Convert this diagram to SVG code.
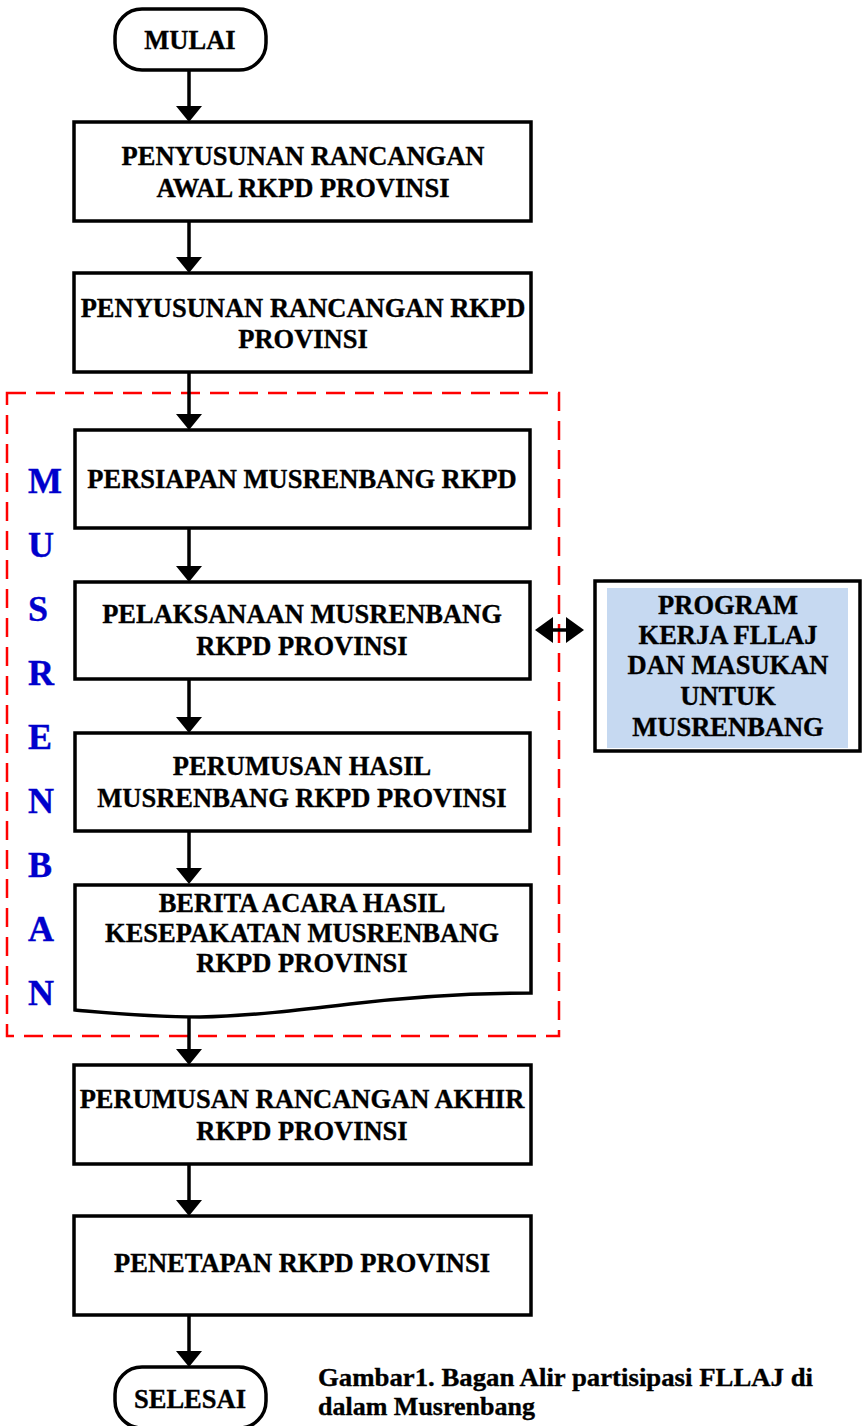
<svg xmlns="http://www.w3.org/2000/svg" width="862" height="1426" viewBox="0 0 862 1426">
<style>
.box{fill:#fff;stroke:#000;stroke-width:3.5}
.t{font-family:"Liberation Serif","Times New Roman",serif;font-weight:bold;font-size:26.5px;fill:#000;stroke:#000;stroke-width:0.35;text-anchor:middle}
.v{font-family:"Liberation Serif","Times New Roman",serif;font-weight:bold;font-size:36px;fill:#0000CC;stroke:#0000CC;stroke-width:0.4}
.cap{font-family:"Liberation Serif","Times New Roman",serif;font-weight:bold;font-size:26px;fill:#000;stroke:#000;stroke-width:0.35}
.ln{stroke:#000;stroke-width:3.5;fill:none}
</style>
<defs>
<marker id="ah" markerUnits="userSpaceOnUse" markerWidth="16" markerHeight="26" viewBox="0 0 16 26" refX="6" refY="13" orient="auto">
<path d="M0,0 L16,13 L0,26 Z" fill="#000"/>
</marker>
<marker id="ah2" markerUnits="userSpaceOnUse" markerWidth="18" markerHeight="26" viewBox="0 0 18 26" refX="8" refY="13" orient="auto-start-reverse">
<path d="M0,0 L18,13 L0,26 Z" fill="#000"/>
</marker>
</defs>
<rect width="862" height="1426" fill="#fff"/>
<g id="musrenbang-frame">
<rect x="7" y="393" width="552" height="643" fill="none" stroke="#FF0000" stroke-width="2.5" stroke-dasharray="19 10"/>
<text class="v" x="28" y="493">M</text>
<text class="v" x="28" y="557">U</text>
<text class="v" x="28" y="621">S</text>
<text class="v" x="28" y="685">R</text>
<text class="v" x="28" y="749">E</text>
<text class="v" x="28" y="813">N</text>
<text class="v" x="28" y="877">B</text>
<text class="v" x="28" y="941">A</text>
<text class="v" x="28" y="1005">N</text>
</g>
<g id="connectors">
<line class="ln" x1="189" y1="70" x2="189" y2="112" marker-end="url(#ah)"/>
<line class="ln" x1="189" y1="221" x2="189" y2="263" marker-end="url(#ah)"/>
<line class="ln" x1="189" y1="372" x2="189" y2="420" marker-end="url(#ah)"/>
<line class="ln" x1="189" y1="528" x2="189" y2="572" marker-end="url(#ah)"/>
<line class="ln" x1="189" y1="679" x2="189" y2="723" marker-end="url(#ah)"/>
<line class="ln" x1="189" y1="831" x2="189" y2="874" marker-end="url(#ah)"/>
<line class="ln" x1="189" y1="1012" x2="189" y2="1055" marker-end="url(#ah)"/>
<line class="ln" x1="189" y1="1164" x2="189" y2="1206" marker-end="url(#ah)"/>
<line class="ln" x1="189" y1="1315" x2="189" y2="1357" marker-end="url(#ah)"/>
<line class="ln" x1="545" y1="630" x2="574" y2="630" stroke-width="3" marker-start="url(#ah2)" marker-end="url(#ah2)"/>
</g>
<g id="mulai">
<rect class="box" x="115" y="9" width="151" height="61" rx="27"/>
<text class="t" x="190" y="49">MULAI</text>
</g>
<g id="n1">
<rect class="box" x="74" y="122" width="457" height="99"/>
<text class="t" x="303" y="165">PENYUSUNAN RANCANGAN</text>
<text class="t" x="303" y="197">AWAL RKPD PROVINSI</text>
</g>
<g id="n2">
<rect class="box" x="74" y="273" width="457" height="99"/>
<text class="t" x="303" y="317">PENYUSUNAN RANCANGAN RKPD</text>
<text class="t" x="303" y="348">PROVINSI</text>
</g>
<g id="n3">
<rect class="box" x="75" y="430" width="455" height="98"/>
<text class="t" x="302" y="488">PERSIAPAN MUSRENBANG RKPD</text>
</g>
<g id="n4">
<rect class="box" x="75" y="582" width="455" height="97"/>
<text class="t" x="302" y="623">PELAKSANAAN MUSRENBANG</text>
<text class="t" x="302" y="655">RKPD PROVINSI</text>
</g>
<g id="n5">
<rect class="box" x="75" y="733" width="455" height="98"/>
<text class="t" x="302" y="775">PERUMUSAN HASIL</text>
<text class="t" x="302" y="807">MUSRENBANG RKPD PROVINSI</text>
</g>
<g id="n6">
<path class="box" d="M75,885 L531,885 L531,993 C460,993 400,998 350,1004 C300,1010 250,1016 200,1017 C150,1017 110,1013 75,1010 Z"/>
<text class="t" x="302" y="912">BERITA ACARA HASIL</text>
<text class="t" x="302" y="942">KESEPAKATAN MUSRENBANG</text>
<text class="t" x="302" y="972">RKPD PROVINSI</text>
</g>
<g id="n7">
<rect class="box" x="74" y="1065" width="457" height="99"/>
<text class="t" x="302" y="1108">PERUMUSAN RANCANGAN AKHIR</text>
<text class="t" x="302" y="1140">RKPD PROVINSI</text>
</g>
<g id="n8">
<rect class="box" x="74" y="1216" width="457" height="99"/>
<text class="t" x="302" y="1272">PENETAPAN RKPD PROVINSI</text>
</g>
<g id="selesai">
<rect class="box" x="115" y="1367" width="151" height="61" rx="27"/>
<text class="t" x="190" y="1408">SELESAI</text>
</g>
<g id="fllaj">
<rect class="box" x="595" y="581" width="265" height="170"/>
<rect x="607" y="588" width="241" height="160" fill="#C6D9F1"/>
<text class="t" x="728" y="614">PROGRAM</text>
<text class="t" x="728" y="644">KERJA FLLAJ</text>
<text class="t" x="728" y="674">DAN MASUKAN</text>
<text class="t" x="728" y="705">UNTUK</text>
<text class="t" x="728" y="736">MUSRENBANG</text>
</g>
<g id="caption">
<text class="cap" x="318" y="1386" textLength="495" lengthAdjust="spacingAndGlyphs">Gambar1. Bagan Alir partisipasi FLLAJ di</text>
<text class="cap" x="318" y="1415">dalam Musrenbang</text>
</g>
</svg>
